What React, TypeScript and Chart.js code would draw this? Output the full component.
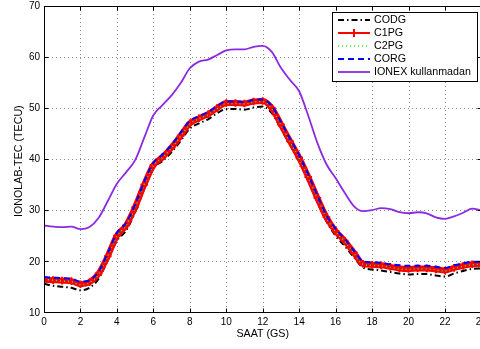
import React, { useEffect, useRef } from 'react';
import { Chart, registerables } from 'chart.js';

Chart.register(...registerables);

const HOURS = [0, 0.5, 1, 1.5, 2, 2.5, 3, 3.5, 4, 4.5, 5, 5.5, 6, 6.5, 7, 7.5, 8, 8.5, 9, 9.5, 10, 10.5, 11, 11.5, 12, 12.5, 13, 13.5, 14, 14.5, 15, 15.5, 16, 16.5, 17, 17.5, 18, 18.5, 19, 19.5, 20, 20.5, 21, 21.5, 22, 22.5, 23, 23.5, 24];

const CODG = [15.6, 15.2, 15.0, 14.8, 14.3, 14.8, 16.6, 20.2, 24.0, 26.0, 29.6, 34.2, 38.2, 39.6, 41.4, 43.6, 46.0, 47.0, 47.8, 49.0, 49.8, 49.8, 49.7, 50.1, 50.3, 49.0, 46.0, 42.8, 39.6, 35.8, 31.6, 27.8, 25.0, 23.0, 20.8, 18.8, 18.4, 18.2, 17.9, 17.6, 17.4, 17.5, 17.5, 17.2, 17.0, 17.6, 18.1, 18.5, 18.6];

const C1PG = [16.4, 16.3, 16.2, 16.1, 15.5, 15.9, 17.6, 21.0, 25.0, 27.0, 30.6, 35.0, 38.8, 40.4, 42.3, 44.6, 47.0, 48.0, 48.8, 50.0, 51.0, 51.0, 50.9, 51.3, 51.4, 50.0, 46.8, 43.5, 40.3, 36.5, 32.4, 28.6, 25.9, 24.0, 21.7, 19.5, 19.3, 19.2, 18.9, 18.6, 18.5, 18.6, 18.6, 18.4, 18.2, 18.7, 19.1, 19.4, 19.5];

const C2PG = [16.4, 16.3, 16.1, 16.0, 15.4, 15.8, 17.5, 21.0, 24.9, 27.0, 30.5, 35.0, 38.7, 40.3, 42.2, 44.5, 46.9, 47.9, 48.7, 49.9, 50.9, 50.9, 50.8, 51.2, 51.3, 49.9, 46.7, 43.4, 40.2, 36.4, 32.3, 28.5, 25.8, 23.9, 21.6, 19.4, 19.2, 19.1, 18.8, 18.5, 18.4, 18.5, 18.5, 18.3, 18.1, 18.6, 19.0, 19.3, 19.4];

const CORG = [16.9, 16.8, 16.7, 16.6, 16.0, 16.3, 18.0, 21.6, 25.6, 27.5, 31.1, 35.6, 39.3, 40.9, 42.8, 45.2, 47.5, 48.4, 49.2, 50.4, 51.3, 51.3, 51.2, 51.6, 51.7, 50.4, 47.3, 44.0, 40.8, 37.0, 32.9, 29.0, 26.4, 24.4, 22.1, 20.0, 19.8, 19.7, 19.4, 19.2, 19.1, 19.1, 19.1, 18.9, 18.7, 19.2, 19.6, 19.9, 19.9];

const IONEX = [27.0, 26.8, 26.7, 26.8, 26.3, 26.7, 28.5, 31.8, 35.2, 37.4, 39.8, 44.2, 48.6, 50.6, 52.5, 54.9, 57.8, 59.1, 59.5, 60.4, 61.3, 61.5, 61.5, 62.0, 62.2, 61.0, 57.9, 55.5, 53.3, 48.5, 43.2, 39.0, 36.3, 33.4, 30.8, 29.8, 30.0, 30.4, 30.2, 29.6, 29.4, 29.6, 29.4, 28.6, 28.3, 28.8, 29.5, 30.3, 30.0];

const X_TICKS = [0, 2, 4, 6, 8, 10, 12, 14, 16, 18, 20, 22, 24];
const Y_TICKS = [10, 20, 30, 40, 50, 60, 70];
const LEGEND_LABELS = ['CODG', 'C1PG', 'C2PG', 'CORG', 'IONEX kullanmadan'];
const X_TITLE = 'SAAT (GS)';
const Y_TITLE = 'IONOLAB-TEC (TECU)';

const FONT = '"Liberation Sans", Arial, Helvetica, sans-serif';

const toPoints = (vals: number[]) => HOURS.map((h, i) => ({ x: h, y: vals[i] }));

const framePlugin = {
  id: 'frame',
  beforeDatasetsDraw(chart: any) {
    const { ctx, chartArea: a, scales } = chart;
    const xs = scales.x;
    const ys = scales.y;
    ctx.save();
    ctx.strokeStyle = '#8a8a8a';
    ctx.lineWidth = 1;
    ctx.setLineDash([1, 3]);
    X_TICKS.forEach((v) => {
      const px = Math.round(xs.getPixelForValue(v)) + 0.5;
      if (px < a.left + 1 || px > a.right - 1) return;
      ctx.beginPath();
      ctx.moveTo(px, a.top);
      ctx.lineTo(px, a.bottom);
      ctx.stroke();
    });
    Y_TICKS.forEach((v) => {
      const py = Math.round(ys.getPixelForValue(v)) + 0.5;
      if (py < a.top + 1 || py > a.bottom - 1) return;
      ctx.beginPath();
      ctx.moveTo(a.left, py);
      ctx.lineTo(a.right, py);
      ctx.stroke();
    });
    ctx.restore();
  },
  afterDatasetsDraw(chart: any) {
    const { ctx, chartArea: a, scales } = chart;
    const xs = scales.x;
    const ys = scales.y;
    const L = Math.round(a.left) + 0.5;
    const R = Math.round(a.right) + 0.5;
    const T = Math.round(a.top) + 0.5;
    const B = Math.round(a.bottom) + 0.5;
    ctx.save();
    ctx.strokeStyle = '#000';
    ctx.lineWidth = 1;
    ctx.setLineDash([]);
    ctx.strokeRect(L, T, R - L, B - T);
    const tl = 4;
    X_TICKS.forEach((v) => {
      const px = Math.round(xs.getPixelForValue(v)) + 0.5;
      ctx.beginPath();
      ctx.moveTo(px, B);
      ctx.lineTo(px, B - tl);
      ctx.moveTo(px, T);
      ctx.lineTo(px, T + tl);
      ctx.stroke();
    });
    Y_TICKS.forEach((v) => {
      const py = Math.round(ys.getPixelForValue(v)) + 0.5;
      ctx.beginPath();
      ctx.moveTo(L, py);
      ctx.lineTo(L + tl, py);
      ctx.moveTo(R, py);
      ctx.lineTo(R - tl, py);
      ctx.stroke();
    });

    // tick labels
    ctx.fillStyle = '#000';
    ctx.font = `10px ${FONT}`;
    ctx.textAlign = 'center';
    ctx.textBaseline = 'middle';
    X_TICKS.forEach((v) => {
      ctx.fillText(String(v), xs.getPixelForValue(v), a.bottom + 10);
    });
    ctx.textAlign = 'right';
    Y_TICKS.forEach((v) => {
      ctx.fillText(String(v), a.left - 4, ys.getPixelForValue(v) + 0.5);
    });

    // axis titles
    ctx.font = `10.7px ${FONT}`;
    ctx.textAlign = 'center';
    ctx.textBaseline = 'middle';
    ctx.fillText(X_TITLE, (a.left + a.right) / 2, a.bottom + 22);
    ctx.save();
    ctx.translate(19, (a.top + a.bottom) / 2 + 2);
    ctx.rotate(-Math.PI / 2);
    ctx.fillText(Y_TITLE, 0, 0);
    ctx.restore();
    ctx.restore();
  },
  afterDraw(chart: any) {
    const { ctx } = chart;
    const bx = 332.5;
    const by = 12.5;
    const bw = 145;
    const bh = 69;
    ctx.save();
    ctx.fillStyle = '#fff';
    ctx.fillRect(bx, by, bw, bh);
    ctx.strokeStyle = '#000';
    ctx.lineWidth = 1;
    ctx.setLineDash([]);
    ctx.strokeRect(bx, by, bw, bh);
    const x1 = 338;
    const x2 = 370;
    const rowY = [20, 33, 46, 59, 72];
    const ds = chart.data.datasets;
    LEGEND_LABELS.forEach((label, i) => {
      const d = ds[i];
      const yy = rowY[i];
      ctx.save();
      ctx.strokeStyle = d.borderColor;
      ctx.lineWidth = d.legendWidth;
      ctx.setLineDash(d.borderDash || []);
      ctx.beginPath();
      ctx.moveTo(x1, yy);
      ctx.lineTo(x2, yy);
      ctx.stroke();
      if (d.pointStyle === 'cross') {
        ctx.setLineDash([]);
        ctx.lineWidth = 2;
        const cx = (x1 + x2) / 2;
        ctx.beginPath();
        ctx.moveTo(cx - 4, yy);
        ctx.lineTo(cx + 4, yy);
        ctx.moveTo(cx, yy - 4);
        ctx.lineTo(cx, yy + 4);
        ctx.stroke();
      }
      ctx.restore();
      ctx.fillStyle = '#000';
      ctx.font = `10.7px ${FONT}`;
      ctx.textAlign = 'left';
      ctx.textBaseline = 'middle';
      ctx.fillText(label, 374, yy + 0.5);
    });
    ctx.restore();
  },
};

export default function App() {
  const ref = useRef<HTMLCanvasElement | null>(null);

  useEffect(() => {
    const canvas = ref.current;
    if (!canvas) return;
    const W = 500;
    const H = 349;
    const plotLeft = 44;
    const plotRight = 481.4;
    const plotTop = 6;
    const plotBottom = 312.3;
    const chart = new Chart(canvas, {
      type: 'line',
      data: {
        datasets: [
          {
            label: LEGEND_LABELS[0],
            data: toPoints(CODG),
            borderColor: '#000000',
            borderWidth: 2,
            borderDash: [6, 3, 1.5, 3],
            pointRadius: 0,
            cubicInterpolationMode: 'monotone',
            order: 5,
            legendWidth: 2,
          } as any,
          {
            label: LEGEND_LABELS[1],
            data: toPoints(C1PG),
            borderColor: '#ff0000',
            backgroundColor: '#ff0000',
            borderWidth: 6,
            borderJoinStyle: 'round',
            borderCapStyle: 'round',
            pointStyle: 'cross',
            pointRadius: 3.8,
            pointBorderWidth: 2,
            pointBorderColor: '#ff0000',
            cubicInterpolationMode: 'monotone',
            order: 4,
            legendWidth: 2,
          } as any,
          {
            label: LEGEND_LABELS[2],
            data: toPoints(C2PG),
            borderColor: '#33ee33',
            borderWidth: 1.5,
            borderDash: [1, 3],
            pointRadius: 0,
            cubicInterpolationMode: 'monotone',
            order: 3,
            legendWidth: 1.5,
          } as any,
          {
            label: LEGEND_LABELS[3],
            data: toPoints(CORG),
            borderColor: '#0000ff',
            borderWidth: 2,
            borderDash: [6, 4],
            pointRadius: 0,
            cubicInterpolationMode: 'monotone',
            order: 2,
            legendWidth: 2,
          } as any,
          {
            label: LEGEND_LABELS[4],
            data: toPoints(IONEX),
            borderColor: '#8a2be2',
            borderWidth: 1.8,
            pointRadius: 0,
            cubicInterpolationMode: 'monotone',
            order: 1,
            legendWidth: 1.8,
          } as any,
        ],
      },
      options: {
        animation: false,
        responsive: false,
        devicePixelRatio: 1,
        layout: { padding: { left: 0, right: W - plotRight, top: plotTop, bottom: 0 } },
        plugins: {
          legend: { display: false },
          tooltip: { enabled: false },
        },
        scales: {
          x: {
            type: 'linear',
            min: 0,
            max: 24,
            afterFit: (s: any) => {
              s.height = H - plotBottom;
            },
            ticks: { display: false, stepSize: 2 },
            grid: { display: false },
            border: { display: false },
            title: { display: false },
          },
          y: {
            type: 'linear',
            min: 10,
            max: 70,
            afterFit: (s: any) => {
              s.width = plotLeft;
            },
            ticks: { display: false, stepSize: 10 },
            grid: { display: false },
            border: { display: false },
            title: { display: false },
          },
        },
      } as any,
      plugins: [framePlugin],
    });
    return () => chart.destroy();
  }, []);

  return (
    <div
      style={{
        position: 'fixed',
        left: 0,
        top: 0,
        width: 480,
        height: 349,
        overflow: 'hidden',
        background: '#fff',
      }}
    >
      <canvas ref={ref} width={500} height={349} style={{ display: 'block', width: 500, height: 349 }} />
    </div>
  );
}
